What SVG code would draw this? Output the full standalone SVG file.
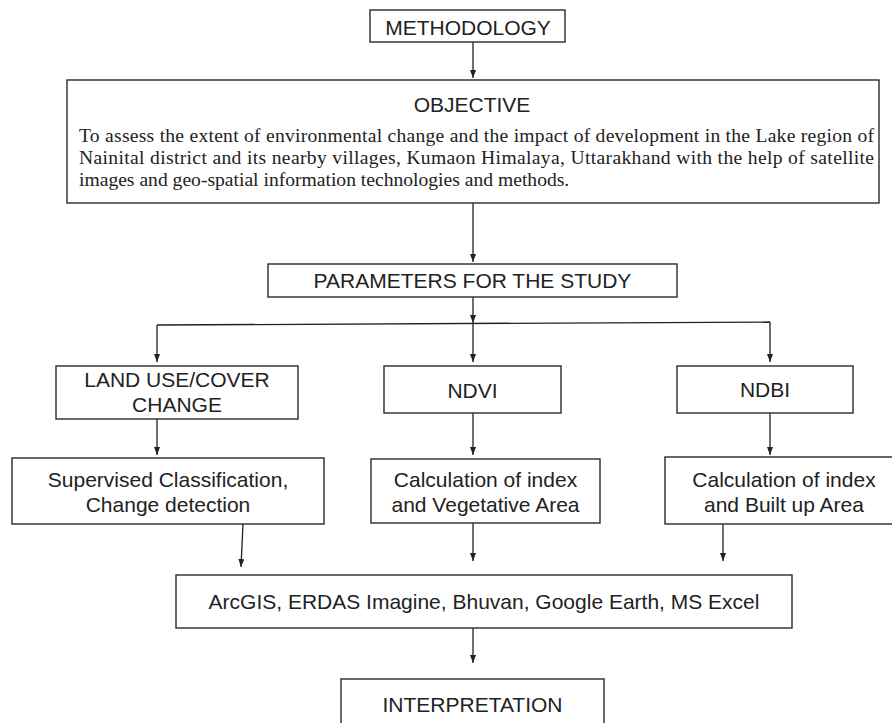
<svg xmlns="http://www.w3.org/2000/svg" width="892" height="723" viewBox="0 0 892 723">
<style>
.box{fill:#fff;stroke:#2a2a2a;stroke-width:1.4}
.lbl{font-family:"Liberation Sans",Arial,sans-serif;font-size:21px;fill:#222;text-anchor:middle}
.para{font-family:"Liberation Serif","Times New Roman",serif;font-size:19.6px;fill:#222}
.con{fill:none;stroke:#222;stroke-width:1.3}
</style>
<defs>
<marker id="ah" markerUnits="userSpaceOnUse" markerWidth="8" markerHeight="6" refX="8" refY="3" orient="auto">
<path d="M0,0 L8,3 L0,6 z" fill="#222"/>
</marker>
</defs>
<rect width="892" height="723" fill="#fff"/>
<g id="connectors">
<line class="con" x1="473" y1="42" x2="473" y2="78" marker-end="url(#ah)"/>
<line class="con" x1="473" y1="203" x2="473" y2="262" marker-end="url(#ah)"/>
<line class="con" x1="473" y1="297" x2="473" y2="323" marker-end="url(#ah)"/>
<line class="con" x1="157" y1="325" x2="770" y2="322"/>
<line class="con" x1="157" y1="325" x2="157" y2="362" marker-end="url(#ah)"/>
<line class="con" x1="473" y1="323" x2="473" y2="362" marker-end="url(#ah)"/>
<line class="con" x1="770" y1="322" x2="770" y2="362" marker-end="url(#ah)"/>
<line class="con" x1="157" y1="419" x2="157" y2="455" marker-end="url(#ah)"/>
<line class="con" x1="473" y1="413" x2="473" y2="455" marker-end="url(#ah)"/>
<line class="con" x1="770" y1="413" x2="770" y2="455" marker-end="url(#ah)"/>
<line class="con" x1="243" y1="524" x2="241" y2="567" marker-end="url(#ah)"/>
<line class="con" x1="473" y1="523" x2="473" y2="561" marker-end="url(#ah)"/>
<line class="con" x1="723" y1="524" x2="723" y2="561" marker-end="url(#ah)"/>
<line class="con" x1="473" y1="628" x2="473" y2="663" marker-end="url(#ah)"/>
</g>
<g id="methodology">
<rect class="box" x="370" y="10" width="195" height="32"/>
<text class="lbl" x="468" y="35">METHODOLOGY</text>
</g>
<g id="objective">
<rect class="box" x="67" y="80" width="812" height="123"/>
<text class="lbl" x="472" y="112">OBJECTIVE</text>
<text class="para" x="79" y="141.5" textLength="795" lengthAdjust="spacing">To assess the extent of environmental change and the impact of development in the Lake region of</text>
<text class="para" x="79" y="163.5" textLength="795" lengthAdjust="spacing">Nainital district and its nearby villages, Kumaon Himalaya, Uttarakhand with the help of satellite</text>
<text class="para" x="79" y="185.5">images and geo-spatial information technologies and methods.</text>
</g>
<g id="parameters">
<rect class="box" x="268" y="264" width="409" height="33"/>
<text class="lbl" x="472.5" y="288">PARAMETERS FOR THE STUDY</text>
</g>
<g id="landuse">
<rect class="box" x="56" y="366" width="242" height="53"/>
<text class="lbl" x="177" y="387">LAND USE/COVER</text>
<text class="lbl" x="177" y="412">CHANGE</text>
</g>
<g id="ndvi">
<rect class="box" x="384" y="366" width="177" height="47"/>
<text class="lbl" x="472.5" y="398">NDVI</text>
</g>
<g id="ndbi">
<rect class="box" x="677" y="366" width="176" height="47"/>
<text class="lbl" x="765" y="397">NDBI</text>
</g>
<g id="supervised">
<rect class="box" x="12" y="458" width="312" height="66"/>
<text class="lbl" x="168" y="487">Supervised Classification,</text>
<text class="lbl" x="168" y="512">Change detection</text>
</g>
<g id="calc-ndvi">
<rect class="box" x="371" y="459" width="229" height="64"/>
<text class="lbl" x="485.5" y="487">Calculation of index</text>
<text class="lbl" x="485.5" y="512">and Vegetative Area</text>
</g>
<g id="calc-ndbi">
<rect class="box" x="665" y="457" width="238" height="67"/>
<text class="lbl" x="784" y="487">Calculation of index</text>
<text class="lbl" x="784" y="512">and Built up Area</text>
</g>
<g id="tools">
<rect class="box" x="176" y="575" width="616" height="53"/>
<text class="lbl" x="484" y="609">ArcGIS, ERDAS Imagine, Bhuvan, Google Earth, MS Excel</text>
</g>
<g id="interpretation">
<rect class="box" x="341" y="679" width="263" height="60"/>
<text class="lbl" x="472.5" y="712">INTERPRETATION</text>
</g>
</svg>
